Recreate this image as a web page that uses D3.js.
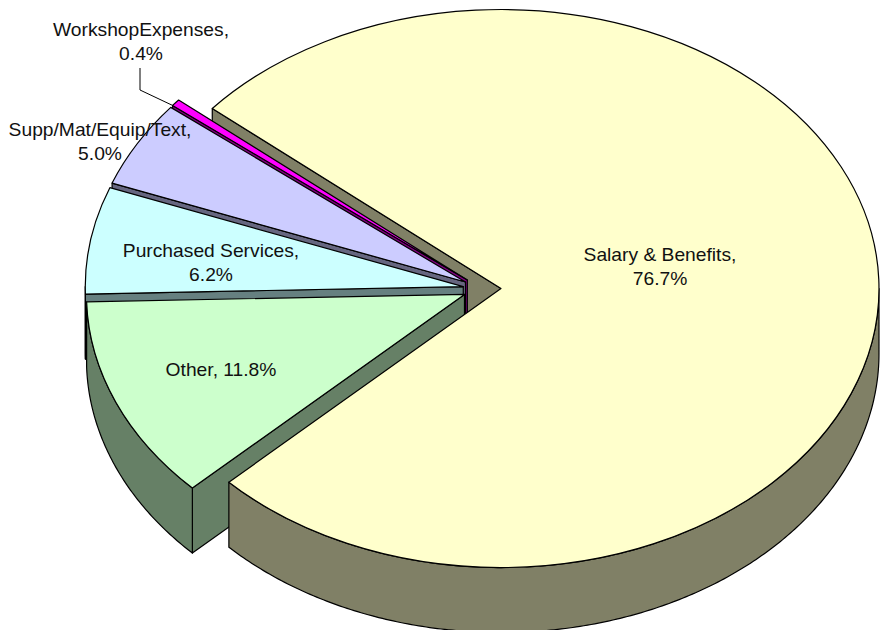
<!DOCTYPE html>
<html>
<head>
<meta charset="utf-8">
<script src="https://cdnjs.cloudflare.com/ajax/libs/d3/7.8.5/d3.min.js"></script>
<style>
  body { margin: 0; background: #fff; }
  svg { display: block; }
  text { font-family: "Liberation Sans", Arial, sans-serif; font-size: 17.5px; fill: #111; }
</style>
</head>
<body>
<div id="chart"></div>
<script>
// data
var categories = ["Salary & Benefits", "Other", "Purchased Services", "Supp/Mat/Equip/Text", "WorkshopExpenses"];
var shares = [76.7, 11.8, 6.2, 5.0, 0.4];
var topColors = ["#FFFFCC", "#CCFFCC", "#CCFFFF", "#CCCCFF", "#FF00FF"];
var wallColors = ["#808066", "#668066", "#668080", "#666680", "#800080"];

// layout
var width = 886, height = 630;
var cx = 482, cy = 289;
var rx = 378, ry = 279;
var depth = 65;
var explode = 19;
var firstAngle = -49.8 * Math.PI / 180;
var textStretch = 1.1;
// label centre x, first baseline y
var labelX = [660, 221, 211, 100, 141];
var labelY = [261, 376, 257, 136, 36];
var labelBreak = [true, false, true, true, true];

var svg = d3.select("#chart").append("svg")
    .attr("width", width)
    .attr("height", height);

var slices = d3.pie().sort(null)
    .startAngle(firstAngle)
    .endAngle(firstAngle + 2 * Math.PI)(shares);

slices.forEach(function (s) {
    var mid = (s.startAngle + s.endAngle) / 2;
    s.ax = cx + explode * Math.sin(mid);
    s.ay = cy - explode * Math.cos(mid) * ry / rx;
});

var line = d3.line();
var arcTop = d3.arc().innerRadius(0).outerRadius(rx);

function rimPoint(s, a, dy) {
    return [s.ax + rx * Math.sin(a), s.ay - ry * Math.cos(a) + dy];
}

// flat face under the cut edge at angle a
function drawCutFace(s, a) {
    svg.append("path")
        .attr("d", line([[s.ax, s.ay], rimPoint(s, a, 0), rimPoint(s, a, depth), [s.ax, s.ay + depth]]) + "Z")
        .attr("fill", wallColors[s.index])
        .attr("stroke", "#000")
        .attr("stroke-width", 1.2)
        .attr("stroke-linejoin", "round");
}

// curved outer wall, only the part that faces the viewer (90deg..270deg)
function drawOuterWall(s) {
    var norm = function (a) { return a < 0 ? a + 2 * Math.PI : a; };
    var from = Math.max(norm(s.startAngle), Math.PI / 2);
    var to = Math.min(norm(s.startAngle) + (s.endAngle - s.startAngle), 3 * Math.PI / 2);
    if (s.index === 0) { from = Math.PI / 2; to = norm(s.endAngle); }
    if (to <= from) return;
    var angles = d3.range(from, to, 0.01).concat([to]);
    var upper = angles.map(function (a) { return rimPoint(s, a, 0); });
    var lower = angles.map(function (a) { return rimPoint(s, a, depth); }).reverse();
    svg.append("path")
        .attr("d", line(upper.concat(lower)) + "Z")
        .attr("fill", wallColors[s.index])
        .attr("stroke", "#000")
        .attr("stroke-width", 1.2)
        .attr("stroke-linejoin", "round");
}

function drawTop(s) {
    svg.append("g")
        .attr("transform", "translate(" + s.ax + "," + s.ay + ") scale(1," + (ry / rx) + ")")
        .append("path")
        .attr("d", arcTop(s))
        .attr("fill", topColors[s.index])
        .attr("stroke", "#000")
        .attr("stroke-width", 1.2)
        .attr("vector-effect", "non-scaling-stroke")
        .attr("stroke-linejoin", "round");
}

// back to front
drawCutFace(slices[0], slices[0].startAngle);
[4, 3, 2].forEach(function (i) {
    drawCutFace(slices[i], slices[i].startAngle);
    drawOuterWall(slices[i]);
    drawTop(slices[i]);
});
drawCutFace(slices[1], slices[1].startAngle);
drawOuterWall(slices[1]);
drawTop(slices[1]);
drawOuterWall(slices[0]);
drawTop(slices[0]);

// leader line for the smallest slice
var leaderStart = [140, 68], leaderBend = [140, 90];
svg.append("path")
    .attr("d", line([leaderStart, leaderBend, rimPoint(slices[4], slices[4].startAngle, 0)]))
    .attr("fill", "none")
    .attr("stroke", "#000");

// labels, slightly wider than the font's natural width like the reference
categories.forEach(function (name, i) {
    var pct = shares[i].toFixed(1) + "%";
    var t = svg.append("text")
        .attr("text-anchor", "middle")
        .attr("transform", "translate(" + labelX[i] + "," + labelY[i] + ") scale(" + textStretch + ",1)");
    if (labelBreak[i]) {
        t.append("tspan").attr("x", 0).text(name + ",");
        t.append("tspan").attr("x", 0).attr("dy", 24).text(pct);
    } else {
        t.text(name + ", " + pct);
    }
});
</script>
</body>
</html>
